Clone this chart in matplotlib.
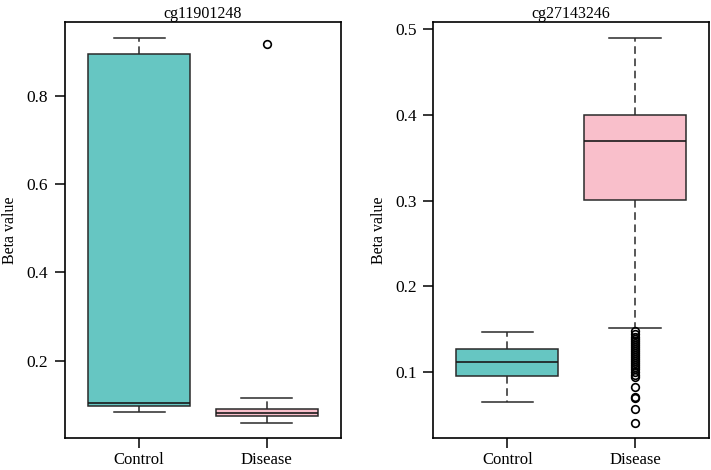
import numpy as np
import matplotlib.pyplot as plt

plt.rcParams['font.family'] = ['Liberation Serif', 'DejaVu Serif']

groups = ['Control', 'Disease']
colors = ['#66C6C2', '#F9BFCB']

# cg11901248 : whislo, q1, med, q3, whishi
cg1_title = 'cg11901248'
cg1_stats = [[0.083, 0.097, 0.1046, 0.896, 0.933],
             [0.0585, 0.074, 0.082, 0.091, 0.1146]]
cg1_fliers = [[], [0.918]]
cg1_ticks = [0.2, 0.4, 0.6, 0.8]

# cg27143246
cg2_title = 'cg27143246'
cg2_stats = [[0.0654, 0.0953, 0.1116, 0.1271, 0.1469],
             [0.1516, 0.3002, 0.3696, 0.3994, 0.4902]]
cg2_fliers = [[], [0.1474, 0.1440, 0.1405, 0.1385, 0.1360, 0.1340, 0.1318,
                   0.1290, 0.1270, 0.1245, 0.1220, 0.1200, 0.1175, 0.1150,
                   0.1130, 0.1105, 0.1080, 0.1055, 0.1035, 0.1000, 0.0970,
                   0.0942, 0.0826, 0.0712, 0.0700, 0.0569, 0.0406]]
cg2_ticks = [0.1, 0.2, 0.3, 0.4, 0.5]


def draw(ax, title, stats, fliers, ticks):
    bx = []
    for s, f in zip(stats, fliers):
        bx.append(dict(whislo=s[0], q1=s[1], med=s[2], q3=s[3], whishi=s[4], fliers=f))
    res = ax.bxp(bx, positions=[1, 2], widths=0.8, patch_artist=True,
                 boxprops=dict(edgecolor='#2a2a2a', linewidth=1.1),
                 medianprops=dict(color='#1a1a1a', linewidth=1.2),
                 whiskerprops=dict(color='#2a2a2a', linewidth=1.1, linestyle=(0, (5, 3))),
                 capprops=dict(color='#2a2a2a', linewidth=1.1),
                 capwidths=0.4,
                 flierprops=dict(marker='o', markersize=5.5, markerfacecolor='none',
                                 markeredgecolor='black', markeredgewidth=1.2))
    for p, c in zip(res['boxes'], colors):
        p.set_facecolor(c)
    allv = [v for s in stats for v in s] + [v for f in fliers for v in f]
    lo, hi = min(allv), max(allv)
    pad = (hi - lo) * 0.04
    ax.set_ylim(lo - pad, hi + pad)
    ax.set_xlim(0.42, 2.58)
    ax.set_xticks([1, 2])
    ax.set_xticklabels(groups, fontsize=12)
    ax.set_yticks(ticks)
    ax.set_yticklabels([f'{t:g}' for t in ticks], fontsize=12.5)
    ax.tick_params(direction='out', length=7, width=1.1, pad=5)
    ax.tick_params(axis='x', pad=2.5)
    ax.set_ylabel('Beta value', fontsize=11.5, labelpad=6)
    ax.set_title(title, fontsize=11.5, pad=3)
    for sp in ax.spines.values():
        sp.set_linewidth(1.2)


fig = plt.figure(figsize=(7.11, 4.70), dpi=100)
ax1 = fig.add_axes([0.0914, 0.0674, 0.3882, 0.8852])
ax2 = fig.add_axes([0.6094, 0.0674, 0.3878, 0.8852])

draw(ax1, cg1_title, cg1_stats, cg1_fliers, cg1_ticks)
draw(ax2, cg2_title, cg2_stats, cg2_fliers, cg2_ticks)

fig.savefig('out.png', dpi=100)
